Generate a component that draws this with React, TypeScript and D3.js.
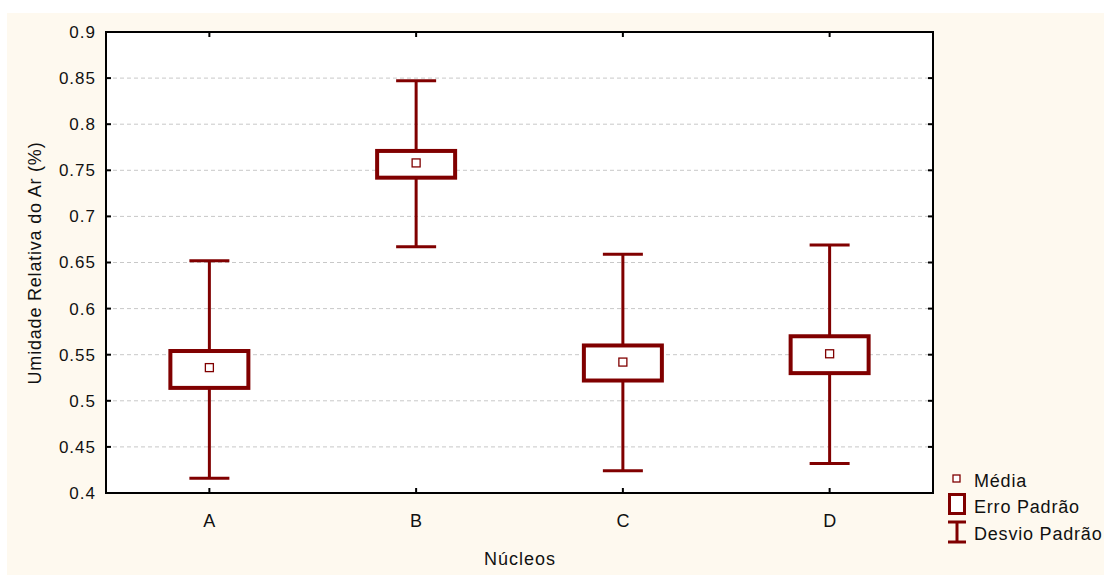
import React from "react";
import * as d3 from "d3";

const categories = ["A", "B", "C", "D"];
const means = [0.536, 0.758, 0.542, 0.551];
const seLow = [0.514, 0.742, 0.522, 0.530];
const seHigh = [0.554, 0.771, 0.560, 0.570];
const sdLow = [0.416, 0.667, 0.424, 0.432];
const sdHigh = [0.652, 0.847, 0.659, 0.669];
const yTicks = [0.4, 0.45, 0.5, 0.55, 0.6, 0.65, 0.7, 0.75, 0.8, 0.85, 0.9];
const legendLabels = ["Média", "Erro Padrão", "Desvio Padrão"];

const W = 1106, H = 575;
const L = 106, T = 32, R = 933, B = 493;
const RED = "#800000";
const FONT = "'Liberation Sans', Arial, sans-serif";

export default function App() {
  const x = d3.scaleBand<string>().domain(categories).range([L, R]);
  const y = d3.scaleLinear().domain([0.4, 0.9]).range([B, T]);
  const fmt = (v: number) => String(+v.toFixed(2));
  const boxW = 78, capW = 40, mk = 8;
  return (
    <svg width={W} height={H} style={{ position: "absolute", left: 0, top: 0, display: "block" }} fontFamily={FONT}>
      <rect x={0} y={0} width={W} height={H} fill="#ffffff" />
      <rect x={7} y={13} width={W - 9} height={H - 13} fill="#fef9ef" />
      <rect x={L} y={T} width={R - L} height={B - T} fill="#ffffff" />
      {yTicks.slice(1, -1).map((t) => (
        <line key={"g" + t} x1={L} x2={R} y1={y(t)} y2={y(t)} stroke="#c8c8c8" strokeWidth={1} strokeDasharray="4,3" />
      ))}
      {categories.map((c, i) => {
        const cx = x(c)! + x.bandwidth() / 2;
        return (
          <g key={c}>
            <line x1={cx} x2={cx} y1={y(sdHigh[i])} y2={y(sdLow[i])} stroke={RED} strokeWidth={3} />
            <line x1={cx - capW / 2} x2={cx + capW / 2} y1={y(sdHigh[i])} y2={y(sdHigh[i])} stroke={RED} strokeWidth={3} />
            <line x1={cx - capW / 2} x2={cx + capW / 2} y1={y(sdLow[i])} y2={y(sdLow[i])} stroke={RED} strokeWidth={3} />
            <rect x={cx - boxW / 2} y={y(seHigh[i])} width={boxW} height={y(seLow[i]) - y(seHigh[i])} fill="#ffffff" stroke={RED} strokeWidth={4} />
            <rect x={cx - mk / 2} y={y(means[i]) - mk / 2} width={mk} height={mk} fill="#ffffff" stroke={RED} strokeWidth={1.3} />
          </g>
        );
      })}
      <rect x={L} y={T} width={R - L} height={B - T} fill="none" stroke="#000" strokeWidth={2} />
      {yTicks.map((t) => (
        <g key={"y" + t}>
          <line x1={L} x2={L + 5} y1={y(t)} y2={y(t)} stroke="#000" strokeWidth={2} />
          <line x1={R - 5} x2={R} y1={y(t)} y2={y(t)} stroke="#000" strokeWidth={2} />
          <text x={96} y={y(t)} dy="0.35em" textAnchor="end" fontSize={17} letterSpacing={1} fill="#111">{fmt(t)}</text>
        </g>
      ))}
      {categories.map((c) => {
        const cx = x(c)! + x.bandwidth() / 2;
        return (
          <g key={"x" + c}>
            <line x1={cx} x2={cx} y1={B} y2={B - 5} stroke="#000" strokeWidth={2} />
            <line x1={cx} x2={cx} y1={T} y2={T + 5} stroke="#000" strokeWidth={2} />
            <text x={cx} y={527} textAnchor="middle" fontSize={18} fill="#111">{c}</text>
          </g>
        );
      })}
      <text x={520} y={565} textAnchor="middle" fontSize={18} letterSpacing={1} fill="#111">Núcleos</text>
      <text transform={`translate(41,263) rotate(-90)`} textAnchor="middle" fontSize={18} letterSpacing={0.8} fill="#111">Umidade Relativa do Ar (%)</text>
      <g>
        <rect x={953} y={475} width={7} height={7} fill="#fff" stroke={RED} strokeWidth={1.3} />
        <text x={974} y={487} fontSize={18} letterSpacing={0.8} fill="#111">{legendLabels[0]}</text>
        <rect x={949.5} y={494.5} width={15} height={19} fill="#fff" stroke={RED} strokeWidth={3} />
        <text x={974} y={513} fontSize={18} letterSpacing={0.8} fill="#111">{legendLabels[1]}</text>
        <line x1={957} x2={957} y1={522} y2={542} stroke={RED} strokeWidth={3} />
        <line x1={948} x2={966} y1={522} y2={522} stroke={RED} strokeWidth={3} />
        <line x1={948} x2={966} y1={542} y2={542} stroke={RED} strokeWidth={3} />
        <text x={974} y={540} fontSize={18} letterSpacing={0.8} fill="#111">{legendLabels[2]}</text>
      </g>
    </svg>
  );
}
